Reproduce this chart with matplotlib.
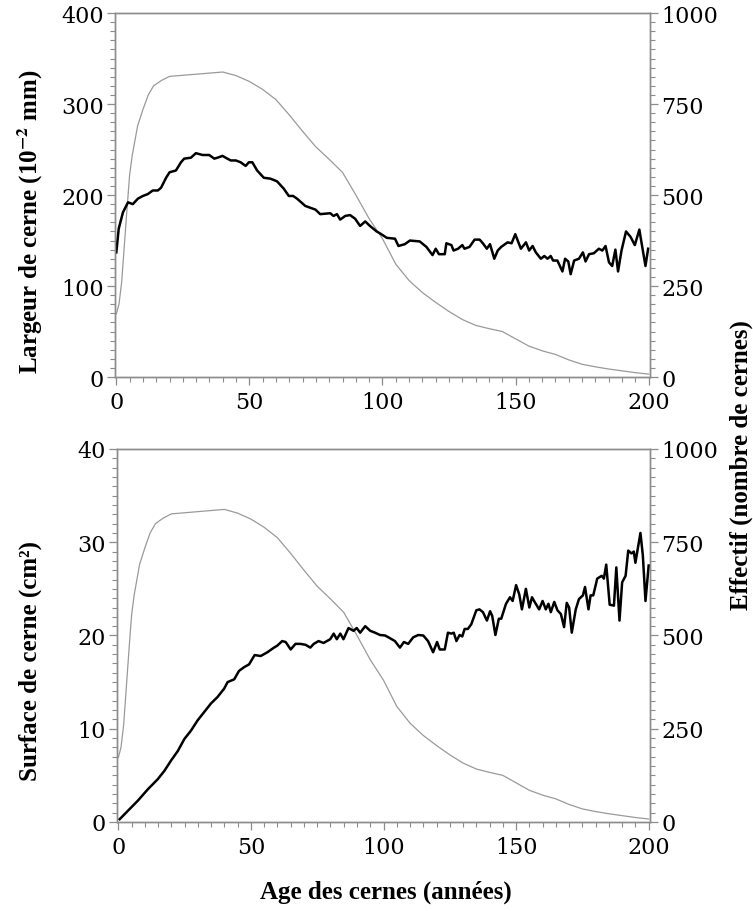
import matplotlib
matplotlib.use('Agg')
import matplotlib.pyplot as plt
from matplotlib.ticker import MultipleLocator

plt.rcParams['mathtext.fontset'] = 'stix'

# effectif (nombre de cernes) en fonction de l'age
age_eff = [0, 1, 2, 3, 4, 5, 6, 8, 10, 12, 14, 17, 20, 25, 30, 35, 40, 45, 50, 55,
           60, 65, 70, 75, 80, 85, 90, 95, 100, 105, 110, 115, 120, 125, 130, 135,
           140, 145, 150, 155, 160, 165, 170, 175, 180, 185, 190, 195, 200]
effectif = [173, 200, 260, 360, 460, 555, 610, 690, 735, 775, 800, 815, 826, 829, 832,
            835, 838, 828, 812, 790, 762, 720, 675, 632, 598, 562, 500, 435, 380, 310,
            265, 232, 205, 180, 158, 142, 133, 125, 105, 85, 72, 62, 47, 35, 28, 22,
            17, 12, 8]

# largeur moyenne de cerne (10^-2 mm)
age_larg = [0, 0.9, 2.5, 4.4, 6.2, 8.1, 10, 11.8, 13.7, 15.6, 16.8, 18.7, 20, 22.4,
            24.3, 25.5, 28, 29.9, 32.4, 34.9, 36.8, 38, 39.9, 41.7, 43, 44.9, 46.7,
            48.6, 49.8, 51.1, 52.9, 55.4, 57.9, 60.4, 62.9, 64.8, 66.4, 67.9, 71,
            72.9, 74.8, 76.6, 80.4, 81.6, 82.9, 84.1, 86, 87.8, 89.7, 91.6, 93.5,
            95.3, 97.8, 99, 101.6, 104.7, 106, 108.4, 110.3, 114, 116.5, 118.8, 120,
            121.2, 123.4, 124, 125.9, 126.7, 128.4, 130, 130.8, 132.7, 134.6, 136.5,
            137.7, 139.2, 140.4, 142, 143.3, 144.6, 147, 148.5, 149.9, 150.8, 152,
            153.9, 155.1, 156.4, 157.6, 159.5, 160.8, 162, 163.2, 164.1, 165.7,
            167.6, 168.6, 169.8, 170.7, 172, 173.8, 175.3, 176.3, 177.6, 179.4,
            181.3, 182.6, 183.8, 185.1, 186.3, 187.5, 188.5, 189.8, 191.5, 193.2,
            194.8, 196.5, 197.3, 198.8, 199.8]
largeur = [137, 163, 181, 192, 190, 196, 199, 201, 205, 205, 208, 219, 225, 227, 236,
           240, 241, 246, 244, 244, 240, 241, 243, 240, 238, 238, 236, 232, 236, 236,
           227, 219, 218, 215, 207, 199, 199, 196, 188, 186, 184, 179, 180, 177, 179,
           173, 177, 178, 174, 166, 171, 166, 160, 158, 153, 152, 144, 146, 150, 149,
           143, 134, 141, 135, 135, 147, 145, 139, 141, 145, 141, 143, 151, 151, 147,
           141, 146, 130, 139, 143, 148, 147, 157, 150, 141, 148, 139, 144, 137, 130,
           133, 130, 133, 128, 128, 116, 130, 127, 113, 128, 130, 137, 127, 135, 136,
           141, 139, 144, 126, 122, 140, 116, 139, 160, 154, 145, 162, 148, 122, 141]

# surface moyenne de cerne (cm2)
age_surf = [0.5, 3.6, 7.4, 11.1, 14.9, 17.4, 19.9, 22.4, 24.9, 27.4, 29.9, 32.4, 34.9,
            37.4, 39.9, 41.2, 43.7, 45.5, 47.4, 49.3, 51.4, 53.7, 56.2, 58.7, 59.9,
            61.8, 63.1, 65, 66.8, 68.7, 70.6, 72.4, 73.7, 75.5, 77.4, 79.9, 81.2,
            82.4, 83.7, 84.9, 86.8, 88.7, 89.9, 91.2, 93.1, 95, 96.8, 98.7, 100.6,
            102.5, 104.3, 106.2, 107.7, 109.3, 111.2, 113.1, 115, 116.8, 118.7, 120.2,
            121.2, 123.1, 124.3, 125.6, 126.5, 127.5, 128.7, 129.7, 130.6, 131.8,
            133.1, 135, 136.2, 137.5, 139, 140.2, 141, 142.2, 143.5, 144.4, 146.2,
            147.7, 148.7, 150, 151.2, 152.2, 153.7, 155, 156, 157.2, 158.7, 160,
            161.2, 162.2, 163.1, 164.4, 165.6, 166.9, 168.1, 169.1, 170, 171, 172.5,
            173.7, 175.2, 176, 177.3, 178.1, 179.1, 180.6, 182.3, 183.1, 184, 185.3,
            186.9, 187.8, 189, 190, 191.3, 192.3, 193.5, 194.4, 195, 196.9, 197.8,
            198.8, 200]
surface = [0.3, 1.2, 2.3, 3.5, 4.6, 5.5, 6.6, 7.6, 8.9, 9.8, 10.9, 11.8, 12.7, 13.4,
           14.3, 15.0, 15.3, 16.2, 16.6, 16.9, 17.9, 17.8, 18.2, 18.7, 18.9, 19.4,
           19.3, 18.5, 19.1, 19.1, 19.0, 18.7, 19.1, 19.4, 19.2, 19.6, 20.2, 19.6,
           20.2, 19.6, 20.8, 20.5, 20.8, 20.3, 21.0, 20.5, 20.3, 20.05, 20.0, 19.7,
           19.4, 18.7, 19.3, 19.1, 19.8, 20.05, 20.0, 19.4, 18.2, 19.3, 18.5, 18.5,
           20.3, 20.2, 20.3, 19.4, 20.05, 19.9, 20.7, 20.7, 21.2, 22.7, 22.8, 22.5,
           21.6, 22.6, 22.1, 20.05, 21.8, 21.8, 23.4, 24.1, 23.7, 25.4, 24.4, 22.8,
           25.0, 23.0, 24.1, 23.5, 22.8, 23.7, 22.8, 23.4, 22.5, 23.6, 22.7, 22.3,
           20.9, 23.5, 23.0, 20.3, 22.8, 23.9, 24.3, 25.2, 22.8, 24.3, 24.3, 26.1,
           26.4, 26.1, 27.6, 23.3, 23.2, 27.3, 21.6, 25.7, 26.4, 29.1, 28.8, 29.0,
           27.8, 31.0, 28.6, 23.7, 27.5]

GRIS_AXE = '#8c8c8c'
GRIS_COURBE = '#9a9a9a'
TICK_FONT = 'DejaVu Serif'
LABEL_FONT = 'Liberation Serif'

fig = plt.figure(figsize=(7.53, 9.12), dpi=100)


def style_axes(ax, ax2, ymax, ymaj, ymin):
    ax.set_xlim(-0.5, 200.5)
    ax.set_ylim(0, ymax)
    ax2.set_ylim(0, 1000)
    ax.xaxis.set_major_locator(MultipleLocator(50))
    ax.xaxis.set_minor_locator(MultipleLocator(5))
    ax.yaxis.set_major_locator(MultipleLocator(ymaj))
    ax.yaxis.set_minor_locator(MultipleLocator(ymin))
    ax2.yaxis.set_major_locator(MultipleLocator(250))
    ax2.yaxis.set_minor_locator(MultipleLocator(25))
    for a in (ax, ax2):
        for s in a.spines.values():
            s.set_color(GRIS_AXE)
            s.set_linewidth(1.0)
        a.tick_params(which='major', length=6, width=0.9, color=GRIS_AXE,
                      labelsize=16, pad=2)
        a.tick_params(which='minor', length=3.5, width=0.8, color=GRIS_AXE)
        for lab in a.get_xticklabels() + a.get_yticklabels():
            lab.set_fontfamily(TICK_FONT)
    ax.tick_params(axis='x', which='both', top=False, bottom=True)
    ax.tick_params(axis='x', which='major', pad=4)
    # courbe noire au-dessus de la courbe grise
    ax.set_zorder(ax2.get_zorder() + 1)
    ax.patch.set_visible(False)


# --- panneau du haut : largeur ---
ax1 = fig.add_axes([0.1527, 0.5855, 0.7105, 0.3991])
ax1b = ax1.twinx()
ax1b.plot(age_eff, effectif, color=GRIS_COURBE, lw=0.9)
ax1.plot(age_larg, largeur, color='black', lw=1.8)
style_axes(ax1, ax1b, 400, 100, 10)

# --- panneau du bas : surface ---
ax2 = fig.add_axes([0.1554, 0.0976, 0.7078, 0.409])
ax2b = ax2.twinx()
ax2b.plot(age_eff, effectif, color=GRIS_COURBE, lw=0.9)
ax2.plot(age_surf, surface, color='black', lw=1.8)
style_axes(ax2, ax2b, 40, 10, 1)

lab_kw = dict(ha='center', va='center', fontfamily=LABEL_FONT,
              fontweight='bold', fontsize=18)
fig.text(0.040, 0.757, 'Largeur de cerne (10$^{\\mathbf{-2}}$ mm)', rotation=90, **lab_kw)
fig.text(0.040, 0.275, 'Surface de cerne (cm²)', rotation=90, **lab_kw)
fig.text(0.513, 0.022, 'Age des cernes (années)', **lab_kw)
fig.text(0.984, 0.49, 'Effectif (nombre de cernes)', rotation=90, **lab_kw)

fig.savefig('out.png', dpi=100)
